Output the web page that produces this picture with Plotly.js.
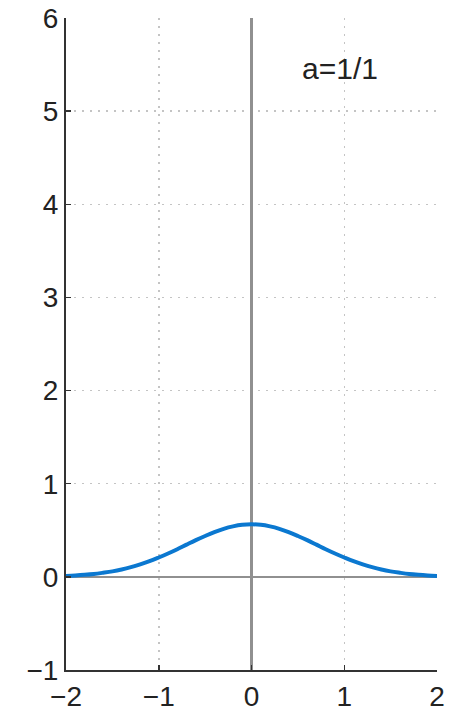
<!DOCTYPE html>
<html>
<head>
<meta charset="utf-8">
<script src="https://cdn.plot.ly/plotly-3.0.1.min.js"></script>
<style>html,body{margin:0;padding:0;background:#fff;}#chart{width:456px;height:714px;}</style>
</head>
<body>
<div id="chart"></div>
<script>
const xValues = [-2.0,-1.9,-1.8,-1.7,-1.6,-1.5,-1.4,-1.3,-1.2,-1.1,-1.0,-0.9,-0.8,-0.7,-0.6,-0.5,-0.4,-0.3,-0.2,-0.1,0.0,
                 0.1,0.2,0.3,0.4,0.5,0.6,0.7,0.8,0.9,1.0,1.1,1.2,1.3,1.4,1.5,1.6,1.7,1.8,1.9,2.0];
const yValues = [0.010,0.015,0.022,0.031,0.044,0.059,0.079,0.104,0.134,0.168,0.208,0.251,0.297,0.346,0.394,0.439,0.481,0.516,0.542,0.559,0.564,
                 0.559,0.542,0.516,0.481,0.439,0.394,0.346,0.297,0.251,0.208,0.168,0.134,0.104,0.079,0.059,0.044,0.031,0.022,0.015,0.010];
const xTicks = [-2,-1,0,1,2];
const yTicks = [-1,0,1,2,3,4,5,6];
const label = "a=1/1";

const font = {family: "Liberation Sans, Arial, sans-serif", size: 28, color: "#222"};
const axisCommon = {
  showline: true, linecolor: "#333", linewidth: 2, mirror: false,
  ticks: "inside", ticklen: 5, tickwidth: 1.5, tickcolor: "#333",
  showgrid: true, gridcolor: "#c4c4c4", griddash: "2px,6px", gridwidth: 1.5,
  zeroline: true, zerolinecolor: "#909090", zerolinewidth: 2.5,
  tickfont: font, fixedrange: true
};
Plotly.newPlot("chart", [{
  x: xValues, y: yValues, type: "scatter", mode: "lines",
  line: {color: "#0b78d0", width: 4, shape: "spline"}, hoverinfo: "none"
}], {
  width: 456, height: 714,
  margin: {l: 66, r: 19, t: 18, b: 44},
  paper_bgcolor: "#fff", plot_bgcolor: "#fff",
  showlegend: false,
  xaxis: Object.assign({}, axisCommon, {range: [-2, 2], tickvals: xTicks, ticktext: xTicks.map(v => v < 0 ? "\u2212" + Math.abs(v) : String(v))}),
  yaxis: Object.assign({}, axisCommon, {range: [-1, 6], tickvals: yTicks, ticktext: yTicks.map(v => v < 0 ? "\u2212" + Math.abs(v) : String(v))}),
  annotations: [{x: 0.95, y: 5.46, xref: "x", yref: "y", text: label, showarrow: false,
    font: {family: "Liberation Sans, Arial, sans-serif", size: 30, color: "#222"}}]
}, {displayModeBar: false, staticPlot: true});
</script>
</body>
</html>
